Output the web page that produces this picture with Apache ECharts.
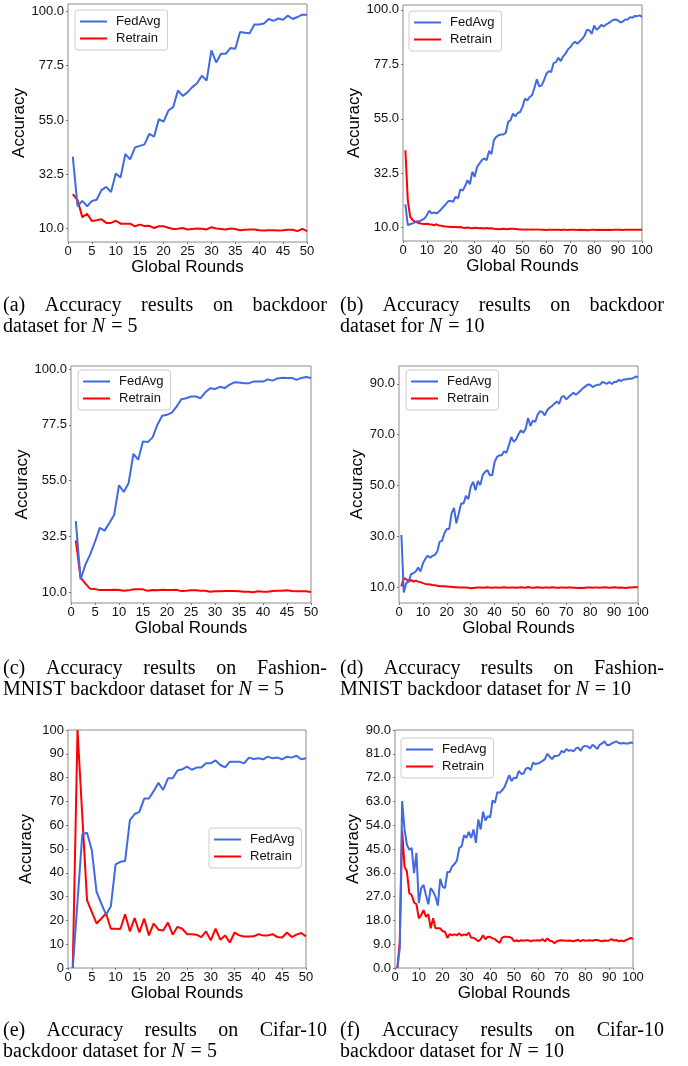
<!DOCTYPE html>
<html>
<head>
<meta charset="utf-8">
<script src="https://cdn.jsdelivr.net/npm/echarts@6/dist/echarts.min.js"></script>
<style>
  html, body { margin: 0; padding: 0; background: #fff; }
  #main { width: 688px; height: 1066px; }
</style>
</head>
<body>
<div id="main"></div>
<script>
// (a) backdoor, N = 5
const fedavgA = [39.8,19.3,21.5,19.3,21.5,22.0,26.0,27.3,25.2,32.8,31.2,40.9,38.7,43.6,44.3,44.9,49.2,48.1,55.3,54.3,58.9,60.3,67.2,65.0,66.4,68.6,70.2,73.3,71.3,83.8,78.8,82.4,82.4,84.8,84.5,91.4,91.1,90.9,94.5,94.5,94.9,96.8,96.0,97.0,96.5,98.2,96.8,97.6,98.6,98.5];
const retrainA = [24.3,21.8,14.8,16.2,13.2,13.5,13.9,12.4,12.4,13.3,12.1,12.1,12.1,11.0,11.7,11.1,11.2,10.3,11.0,11.0,10.4,9.9,10.0,10.3,9.7,9.9,10.1,10.0,9.7,10.6,10.1,9.9,9.7,10.1,9.9,9.4,9.6,9.7,9.7,9.4,9.3,9.4,9.4,9.3,9.4,9.6,9.6,9.0,9.9,9.0];

// (b) backdoor, N = 10
const fedavgB = [19.6,11.1,11.4,11.8,12.2,12.7,12.7,13.2,13.8,15.2,
  17.0,15.9,16.3,15.9,16.6,17.6,18.7,19.8,21.0,21.0,
  20.7,22.8,22.1,25.8,25.3,27.2,29.6,27.9,33.1,31.0,
  35.1,36.5,37.9,38.6,37.9,41.7,40.4,46.1,47.5,48.2,
  48.5,48.5,49.2,53.7,54.4,57.1,56.0,57.4,57.8,59.9,
  63.3,62.6,64.0,64.7,67.8,71.3,68.4,68.8,70.9,73.6,
  74.7,74.3,78.0,78.4,80.2,78.8,80.8,81.9,83.6,84.6,
  86.0,86.8,86.0,87.1,88.0,89.4,91.8,91.5,90.1,93.5,
  91.8,92.6,93.8,93.1,94.0,94.5,95.2,95.9,96.0,95.6,
  94.8,95.2,96.0,96.0,97.0,96.7,97.5,97.4,97.7,97.1];
const retrainB = [42.0,21.4,14.5,13.2,12.5,12.1,11.8,11.6,11.5,11.6,
  11.4,11.3,11.0,11.4,10.9,10.8,10.6,10.5,10.4,10.3,
  10.3,10.3,10.2,10.3,10.0,9.9,10.1,9.9,9.8,10.0,
  9.9,9.8,9.9,9.7,9.9,9.7,9.8,9.6,9.5,9.4,
  9.5,9.6,9.4,9.5,9.6,9.6,9.5,9.4,9.3,9.3,
  9.2,9.3,9.2,9.3,9.2,9.3,9.2,9.1,9.1,9.0,
  9.1,9.2,9.1,9.2,9.1,9.0,9.1,9.2,9.0,9.1,
  9.1,9.2,9.0,9.1,9.0,9.1,8.9,9.0,9.2,9.1,
  9.0,9.1,9.0,9.1,9.0,9.1,9.0,9.1,9.2,9.1,
  9.1,9.0,9.1,9.2,9.1,9.1,9.2,9.1,9.1,9.1];

// (c) Fashion-MNIST, N = 5
const fedavgC = [38.6,15.1,21.1,25.2,30.3,35.9,34.8,37.9,41.2,53.1,50.4,54.0,65.7,63.4,70.8,70.5,72.4,77.5,81.1,81.5,82.4,84.8,87.8,88.2,88.9,88.9,88.2,90.6,92.2,91.9,92.8,92.3,93.6,94.6,94.5,94.2,94.2,94.9,94.9,94.9,95.8,95.3,96.2,96.5,96.4,96.4,95.6,96.4,96.8,96.4];
const retrainC = [30.9,15.8,13.4,11.3,11.2,10.8,10.8,10.8,10.9,10.8,10.5,10.7,11.1,11.1,11.1,10.5,10.8,10.7,10.9,10.8,10.8,10.9,10.4,10.5,10.7,10.7,10.5,10.5,10.1,10.3,10.3,10.4,10.4,10.4,10.3,10.1,10.1,9.9,10.3,10.1,10.1,10.4,10.5,10.5,10.7,10.4,10.3,10.3,10.3,10.0];

// (d) Fashion-MNIST, N = 10
const fedavgD = [30.6,8.0,11.7,12.3,15.2,15.6,16.3,17.8,16.3,19.5,
  21.2,22.5,21.7,22.4,22.8,24.1,28.0,28.3,31.3,33.0,
  33.0,39.1,41.3,35.2,39.1,43.0,43.0,46.0,44.7,49.5,
  51.5,48.2,51.8,50.2,54.1,55.4,56.1,54.1,54.1,59.3,
  61.3,61.9,61.9,63.5,62.9,65.9,69.1,67.2,68.2,70.2,
  71.7,70.8,72.4,76.6,73.4,75.6,75.0,77.9,79.2,78.9,
  77.6,79.6,80.6,81.3,82.2,83.1,82.2,84.8,85.2,83.9,
  84.8,85.7,86.5,85.7,86.5,87.4,88.3,89.0,89.7,89.6,
  88.7,89.3,89.6,89.6,90.7,90.4,90.0,90.7,89.9,90.7,
  90.7,91.6,91.1,91.7,91.7,92.0,92.0,92.2,92.9,92.5];
const retrainD = [10.4,13.7,13.3,12.3,13.0,12.3,12.7,12.3,12.1,11.7,
  11.4,11.3,11.2,11.0,10.9,10.7,10.5,10.5,10.5,10.4,
  10.3,10.3,10.1,10.1,10.0,10.0,10.0,10.0,9.9,9.7,
  9.8,9.9,10.0,10.0,9.9,10.0,10.1,10.0,9.9,10.0,
  10.0,9.9,10.0,10.1,10.0,9.9,10.0,10.0,9.9,10.0,
  10.1,10.0,9.9,10.2,10.0,9.9,10.0,10.1,10.0,9.9,
  10.0,10.0,9.9,10.1,10.0,9.9,9.9,10.0,10.0,9.9,
  10.0,10.0,9.9,9.9,9.8,9.9,9.8,9.9,10.0,10.0,
  9.9,10.0,10.0,9.9,10.0,10.1,10.0,9.9,10.0,10.1,
  10.0,9.9,10.0,9.9,9.8,10.0,10.0,10.1,10.1,10.1];

// (e) Cifar-10, N = 5
const fedavgE = [0,28.0,56.1,56.8,49.5,32.0,27.1,22.4,25.9,43.5,44.6,45.0,62.0,64.7,65.6,71.2,71.2,74.3,77.8,74.8,79.7,79.7,83.0,83.5,84.6,83.3,84.2,84.2,86.0,86.0,87.2,85.3,84.3,86.7,86.7,86.7,86.0,88.4,87.8,88.1,87.7,88.8,88.1,88.4,87.7,88.8,88.4,89.2,87.7,88.1];
const retrainE = [0,100,64.0,28.5,23.6,18.7,20.8,22.9,16.5,16.5,16.4,22.6,15.4,21.0,14.9,20.8,13.7,18.7,16.1,15.8,19.1,14.0,17.3,16.5,14.2,14.2,14.0,13.0,15.4,11.6,16.5,11.9,13.7,10.7,14.9,13.7,13.2,13.2,13.3,14.2,13.7,13.7,14.2,13.0,12.8,14.9,13.0,14.0,14.7,13.3];

// (f) Cifar-10, N = 10
const fedavgF = [0,7.4,63.1,52.4,46.6,44.7,45.4,35.9,43.5,24.5,
  30.2,31.4,27.6,24.1,30.2,28.9,27.0,23.6,33.7,30.8,
  30.2,36.3,36.3,38.4,39.3,40.6,45.4,46.0,50.2,49.2,
  51.5,49.2,52.4,47.3,56.2,52.4,59.1,55.8,57.4,57.0,
  63.4,62.5,66.5,66.3,67.2,68.4,70.7,72.9,70.7,72.0,
  71.7,74.5,73.5,73.5,75.4,75.8,74.8,77.7,77.1,77.3,
  77.7,78.3,79.0,81.1,79.9,79.0,80.2,80.2,80.5,82.1,
  81.5,82.8,82.1,82.4,81.9,83.0,83.4,82.1,83.7,84.0,
  83.8,83.0,84.4,83.7,82.8,84.4,84.9,85.7,84.3,84.3,
  84.9,85.3,85.7,85.1,84.9,85.1,84.9,84.9,85.3,85.1];
const retrainF = [0,9.9,52.0,38.4,36.5,28.3,27.6,24.8,24.1,18.8,
  20.0,21.9,19.4,20.3,15.0,18.8,15.0,15.0,15.0,13.9,
  13.7,11.4,12.8,12.4,12.7,12.4,13.1,12.2,12.7,12.4,
  13.4,11.4,11.4,10.9,10.1,10.9,12.4,10.9,11.8,11.7,
  11.2,10.9,10.1,9.5,11.5,11.8,11.8,11.7,11.4,10.1,
  10.5,10.1,10.5,10.3,10.5,10.5,10.1,10.4,10.4,10.5,
  10.3,10.9,10.1,11.2,10.3,10.1,9.4,10.1,10.4,10.5,
  10.4,10.3,10.4,10.3,10.1,10.4,10.6,10.1,10.6,10.3,
  10.4,10.5,10.3,10.6,10.6,10.3,10.1,10.4,10.3,10.4,
  10.9,10.4,10.6,10.1,10.4,10.1,10.5,10.9,11.4,10.9];

// tick labels
const ticksAB = [10, 32.5, 55, 77.5, 100];
const ticksD = [10, 30, 50, 70, 90];
const ticksE = [0, 10, 20, 30, 40, 50, 60, 70, 80, 90, 100];
const ticksF = [0, 9, 18, 27, 36, 45, 54, 63, 72, 81, 90];

const seriesNames = ['FedAvg', 'Retrain'];

// captions
const captions = [
  ['(a) Accuracy results on backdoor', 'dataset for ', '= 5'],
  ['(b) Accuracy results on backdoor', 'dataset for ', '= 10'],
  ['(c) Accuracy results on Fashion-', 'MNIST backdoor dataset for ', '= 5'],
  ['(d) Accuracy results on Fashion-', 'MNIST backdoor dataset for ', '= 10'],
  ['(e) Accuracy results on Cifar-10', 'backdoor dataset for ', '= 5'],
  ['(f) Accuracy results on Cifar-10', 'backdoor dataset for ', '= 10']
];

const panels = [
  { grid: { left: 68, top: 4, width: 239, height: 238 }, xMax: 50, xStep: 5, yMin: 4.5, yMax: 103, ticks: ticksAB, digits: 1, legend: { left: 75, top: 10 }, fed: fedavgA, re: retrainA },
  { grid: { left: 403, top: 5, width: 239, height: 236 }, xMax: 100, xStep: 10, yMin: 4.5, yMax: 102, ticks: ticksAB, digits: 1, legend: { left: 409, top: 11 }, fed: fedavgB, re: retrainB },
  { grid: { left: 71, top: 366, width: 240, height: 237 }, xMax: 50, xStep: 5, yMin: 5.6, yMax: 101.2, ticks: ticksAB, digits: 1, legend: { left: 78, top: 370 }, fed: fedavgC, re: retrainC },
  { grid: { left: 399, top: 366, width: 239, height: 237 }, xMax: 100, xStep: 10, yMin: 3.9, yMax: 97, ticks: ticksD, digits: 1, legend: { left: 406, top: 370 }, fed: fedavgD, re: retrainD },
  { grid: { left: 68, top: 730, width: 238, height: 238 }, xMax: 50, xStep: 5, yMin: 0, yMax: 100, ticks: ticksE, digits: 0, legend: { left: 209, top: 828 }, fed: fedavgE, re: retrainE },
  { grid: { left: 395, top: 730, width: 238, height: 238 }, xMax: 100, xStep: 10, yMin: 0, yMax: 90, ticks: ticksF, digits: 1, legend: { left: 401, top: 738 }, fed: fedavgF, re: retrainF }
];

const capCols = [[3, 327], [340, 664]];
const capRows = [[306, 327], [669, 690], [1031, 1052]];

const chartDom = document.getElementById('main');
const myChart = echarts.init(chartDom);

const grids = [], xAxes = [], yAxes = [], series = [], legends = [];
panels.forEach((p, i) => {
  grids.push(Object.assign({ show: true, borderColor: '#8c8c8c', borderWidth: 1, backgroundColor: 'transparent' }, p.grid));
  xAxes.push({
    type: 'value', gridIndex: i, min: 0, max: p.xMax, interval: p.xStep,
    name: 'Global Rounds', nameLocation: 'middle', nameGap: 17,
    nameTextStyle: { fontSize: 17, color: '#000', fontFamily: 'Liberation Sans' },
    axisLine: { show: false },
    axisTick: { show: true, length: 2, lineStyle: { color: '#777' } },
    axisLabel: { fontSize: 13, color: '#111', margin: 3, fontFamily: 'Liberation Sans' },
    splitLine: { show: false }
  });
  yAxes.push({
    type: 'value', gridIndex: i, min: p.yMin, max: p.yMax,
    name: 'Accuracy', nameLocation: 'middle', nameGap: 33,
    nameTextStyle: { fontSize: 17, color: '#000', fontFamily: 'Liberation Sans' },
    axisLine: { show: false },
    axisTick: { show: true, length: 2, customValues: p.ticks, lineStyle: { color: '#777' } },
    axisLabel: {
      fontSize: 13, color: '#111', margin: 4, fontFamily: 'Liberation Sans',
      customValues: p.ticks,
      formatter: v => Number(v).toFixed(p.digits)
    },
    splitLine: { show: false }
  });
  [p.fed, p.re].forEach((vals, k) => {
    series.push({
      name: seriesNames[k], type: 'line', xAxisIndex: i, yAxisIndex: i,
      data: vals.map((v, j) => [j + 1, v]),
      symbol: 'none', smooth: false,
      lineStyle: { width: 2, color: k === 0 ? '#4169e1' : '#ff0000' },
      itemStyle: { color: k === 0 ? '#4169e1' : '#ff0000' },
      z: k === 0 ? 3 : 2
    });
  });
  legends.push({
    data: seriesNames, left: p.legend.left, top: p.legend.top, orient: 'vertical',
    icon: 'rect', itemWidth: 27, itemHeight: 2, itemGap: 4,
    padding: [5, 7, 5, 5], borderColor: '#cccccc', borderWidth: 1, borderRadius: 3,
    backgroundColor: 'rgba(255,255,255,0.85)',
    textStyle: { fontSize: 13, color: '#111', fontFamily: 'Liberation Sans', padding: [0, 0, 0, 4] },
    selectedMode: false
  });
});

// caption text: first line justified, second line left aligned
const measure = document.createElement('canvas').getContext('2d');
function textWidth(t, italic) {
  measure.font = (italic ? 'italic ' : '') + '20px "Liberation Serif"';
  return measure.measureText(t).width;
}
const graphics = [];
function addText(t, x, y, italic) {
  graphics.push({
    type: 'text', x: x, y: y, silent: true,
    style: { text: t, fontSize: 20, fontFamily: 'Liberation Serif', fontStyle: italic ? 'italic' : 'normal', fill: '#000', verticalAlign: 'middle', align: 'left' }
  });
}
captions.forEach((c, i) => {
  const col = capCols[i % 2], row = capRows[Math.floor(i / 2)];
  const words = c[0].split(' ');
  const widths = words.map(w => textWidth(w));
  const total = widths.reduce((a, b) => a + b, 0);
  const gap = (col[1] - col[0] - total) / (words.length - 1);
  let x = col[0];
  words.forEach((w, k) => { addText(w, x, row[0]); x += widths[k] + gap; });
  x = col[0];
  addText(c[1], x, row[1]); x += textWidth(c[1]);
  addText('N', x, row[1], true); x += textWidth('N', true) + 6;
  addText(c[2], x, row[1]);
});

const option = {
  animation: false,
  backgroundColor: '#fff',
  grid: grids,
  xAxis: xAxes,
  yAxis: yAxes,
  legend: legends,
  series: series,
  graphic: graphics
};
option && myChart.setOption(option);
</script>
</body>
</html>
